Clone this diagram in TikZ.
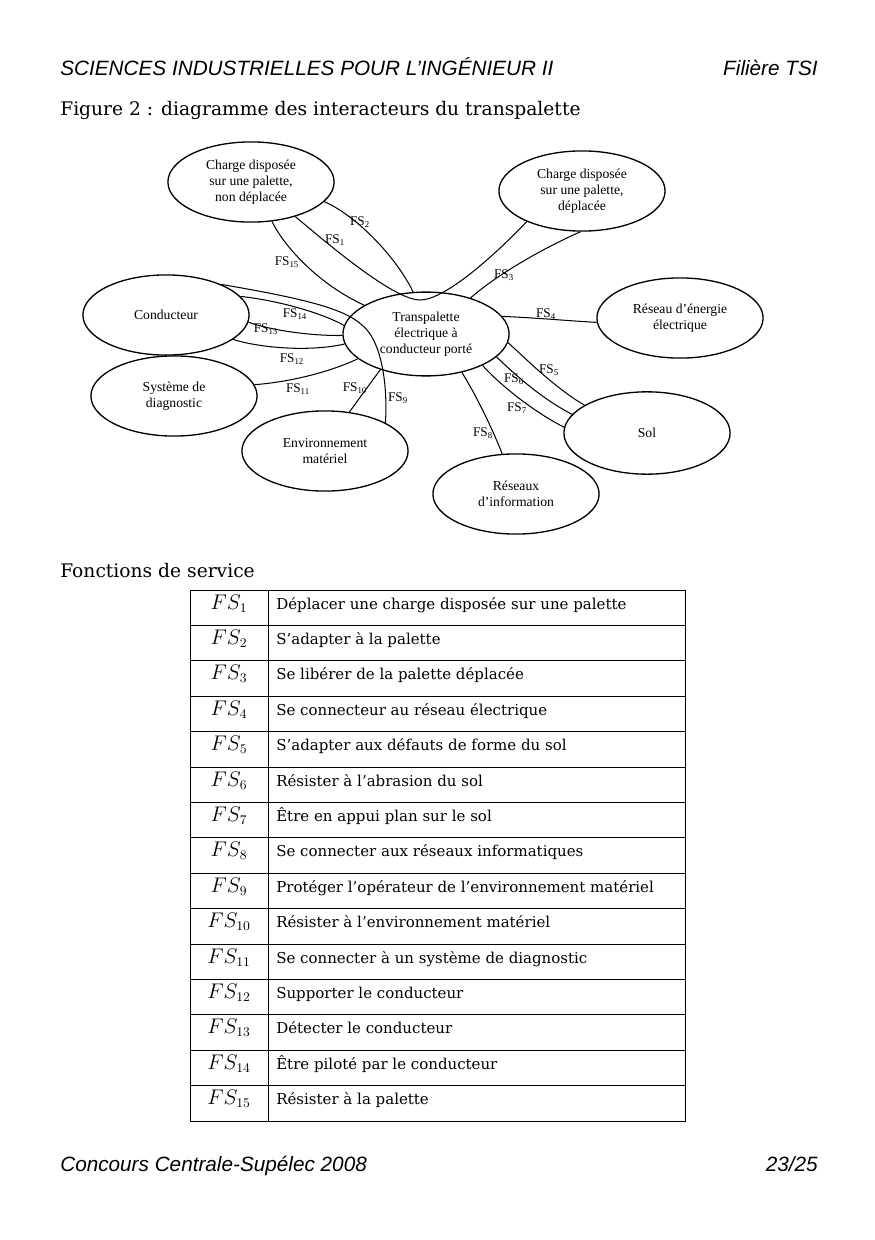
\documentclass[tikz,border=0pt]{standalone}
\usepackage{fontspec}
\usetikzlibrary{shapes.geometric}
\setmainfont{DejaVu Serif}
\newfontfamily\diagfont{Liberation Serif}
\newfontfamily\headfont{Liberation Sans}
\newcommand{\fsl}[1]{FS\textsubscript{#1}}
\newcommand{\fst}[1]{$FS_{#1}$}

\begin{document}
\begin{tikzpicture}[x=0.68pt, y=-0.68pt,
    bubble/.style={draw, ellipse, line width=0.9pt, minimum width=113pt, minimum height=54.5pt, inner sep=0pt, align=center, font=\diagfont\fontsize{9.3}{10.9}\selectfont},
    fslabel/.style={inner sep=0pt, font=\diagfont\fontsize{9}{10}\selectfont},
    link/.style={line width=0.7pt},
    headtext/.style={inner sep=0pt, font=\headfont\itshape\fontsize{14.1}{16}\selectfont},
    titletext/.style={anchor=base west, inner sep=0pt, font=\fontsize{12.7}{15}\selectfont},
    fscell/.style={anchor=base, inner sep=0pt, font=\fontsize{13.3}{15}\selectfont},
    rowtext/.style={anchor=base west, inner sep=0pt, font=\fontsize{10.2}{12}\selectfont}]
    \useasboundingbox (0,0) rectangle (875,1240);

    \node[headtext, anchor=base west] (sii) at (60,76) {SCIENCES INDUSTRIELLES POUR L’INGÉNIEUR II};
    \node[headtext, anchor=base east] (tsi) at (818,76) {Filière TSI};
    \node[titletext] (fig) at (60,116) {Figure 2 : diagramme des interacteurs du transpalette};

    \node[bubble] (chnd) at (251,182) {Charge disposée\\sur une palette,\\non déplacée};
    \node[bubble] (chd) at (582,191) {Charge disposée\\sur une palette,\\déplacée};
    \node[bubble] (cond) at (166,315) {Conducteur};
    \node[bubble] (diag) at (174,396) {Système de\\diagnostic};
    \node[bubble, minimum height=57pt] (tp) at (426,334) {Transpalette\\électrique à\\conducteur porté};
    \node[bubble] (reseau) at (680,318) {Réseau d’énergie\\électrique};
    \node[bubble, minimum height=56pt] (sol) at (647,433) {Sol};
    \node[bubble] (ri) at (516,494) {Réseaux\\d’information};
    \node[bubble] (env) at (325,451) {Environnement\\matériel};

    \coordinate (fsone) at (420,300);
    \coordinate (fsnine) at (363,326);
    \draw[link] (chnd.-38) .. controls (335,250) and (395,300) .. (fsone) .. controls (445,300) and (495,255) .. (chd.209);
    \draw[link] (chnd.-15) .. controls (355,215) and (395,255) .. (tp.107);
    \draw[link] (chd.268) .. controls (550,245) and (500,272) .. (tp.39);
    \draw[link] (tp.13) .. controls (540,318) and (570,321) .. (reseau.183);
    \draw[link] (tp.-6) .. controls (525,358) and (555,388) .. (sol.156);
    \draw[link] (tp.-18) .. controls (510,370) and (540,398) .. (sol.166);
    \draw[link] (tp.-29) .. controls (495,380) and (530,410) .. (sol.176);
    \draw[link] (tp.-47) .. controls (475,393) and (493,430) .. (ri.109);
    \draw[link] (cond.29) .. controls (300,298) and (345,308) .. (fsnine) .. controls (380,340) and (388,380) .. (env.25);
    \draw[link] (env.58) -- (tp.218);
    \draw[link] (diag.8) .. controls (290,382) and (330,372) .. (tp.200);
    \draw[link] (cond.-20) .. controls (260,348) and (310,352) .. (tp.187);
    \draw[link] (cond.-5) .. controls (270,330) and (310,336) .. (tp.181);
    \draw[link] (cond.14) .. controls (275,300) and (320,312) .. (tp.174);
    \draw[link] (chnd.-62) .. controls (285,248) and (320,285) .. (tp.155);

    \node[fslabel] (l1) at (335,240) {\fsl{1}};
    \node[fslabel] (l2) at (360,222) {\fsl{2}};
    \node[fslabel] (l3) at (504,275) {\fsl{3}};
    \node[fslabel] (l4) at (546,314) {\fsl{4}};
    \node[fslabel] (l5) at (549,370) {\fsl{5}};
    \node[fslabel] (l6) at (514,379) {\fsl{6}};
    \node[fslabel] (l7) at (517,408) {\fsl{7}};
    \node[fslabel] (l8) at (483,433) {\fsl{8}};
    \node[fslabel] (l9) at (398,398) {\fsl{9}};
    \node[fslabel] (l10) at (355,388) {\fsl{10}};
    \node[fslabel] (l11) at (298,389) {\fsl{11}};
    \node[fslabel] (l12) at (292,359) {\fsl{12}};
    \node[fslabel] (l13) at (266,329) {\fsl{13}};
    \node[fslabel] (l14) at (295,314) {\fsl{14}};
    \node[fslabel] (l15) at (287,262) {\fsl{15}};

    \node[titletext] (fonctions) at (60,577) {Fonctions de service};

    \draw[line width=0.6pt] (190,590) rectangle (685,1121);
    \draw[line width=0.6pt] (268,590) -- (268,1121);
    \draw[line width=0.6pt] (190,625.4) -- (685,625.4) (190,660.8) -- (685,660.8) (190,696.2) -- (685,696.2)
        (190,731.6) -- (685,731.6) (190,767) -- (685,767) (190,802.4) -- (685,802.4) (190,837.8) -- (685,837.8)
        (190,873.2) -- (685,873.2) (190,908.6) -- (685,908.6) (190,944) -- (685,944) (190,979.4) -- (685,979.4)
        (190,1014.8) -- (685,1014.8) (190,1050.2) -- (685,1050.2) (190,1085.6) -- (685,1085.6);

    \node[fscell] (f1) at (229,609) {\fst{1}};
    \node[rowtext] (t1) at (276,609) {Déplacer une charge disposée sur une palette};
    \node[fscell] (f2) at (229,644.4) {\fst{2}};
    \node[rowtext] (t2) at (276,644.4) {S’adapter à la palette};
    \node[fscell] (f3) at (229,679.8) {\fst{3}};
    \node[rowtext] (t3) at (276,679.8) {Se libérer de la palette déplacée};
    \node[fscell] (f4) at (229,715.2) {\fst{4}};
    \node[rowtext] (t4) at (276,715.2) {Se connecteur au réseau électrique};
    \node[fscell] (f5) at (229,750.6) {\fst{5}};
    \node[rowtext] (t5) at (276,750.6) {S’adapter aux défauts de forme du sol};
    \node[fscell] (f6) at (229,786) {\fst{6}};
    \node[rowtext] (t6) at (276,786) {Résister à l’abrasion du sol};
    \node[fscell] (f7) at (229,821.4) {\fst{7}};
    \node[rowtext] (t7) at (276,821.4) {Être en appui plan sur le sol};
    \node[fscell] (f8) at (229,856.8) {\fst{8}};
    \node[rowtext] (t8) at (276,856.8) {Se connecter aux réseaux informatiques};
    \node[fscell] (f9) at (229,892.2) {\fst{9}};
    \node[rowtext] (t9) at (276,892.2) {Protéger l’opérateur de l’environnement matériel};
    \node[fscell] (f10) at (229,927.6) {\fst{10}};
    \node[rowtext] (t10) at (276,927.6) {Résister à l’environnement matériel};
    \node[fscell] (f11) at (229,963) {\fst{11}};
    \node[rowtext] (t11) at (276,963) {Se connecter à un système de diagnostic};
    \node[fscell] (f12) at (229,998.4) {\fst{12}};
    \node[rowtext] (t12) at (276,998.4) {Supporter le conducteur};
    \node[fscell] (f13) at (229,1033.8) {\fst{13}};
    \node[rowtext] (t13) at (276,1033.8) {Détecter le conducteur};
    \node[fscell] (f14) at (229,1069.2) {\fst{14}};
    \node[rowtext] (t14) at (276,1069.2) {Être piloté par le conducteur};
    \node[fscell] (f15) at (229,1104.6) {\fst{15}};
    \node[rowtext] (t15) at (276,1104.6) {Résister à la palette};

    \node[headtext, anchor=base west] (concours) at (60,1171) {Concours Centrale-Supélec 2008};
    \node[headtext, anchor=base east] (page) at (818,1171) {23/25};
\end{tikzpicture}
\end{document}
